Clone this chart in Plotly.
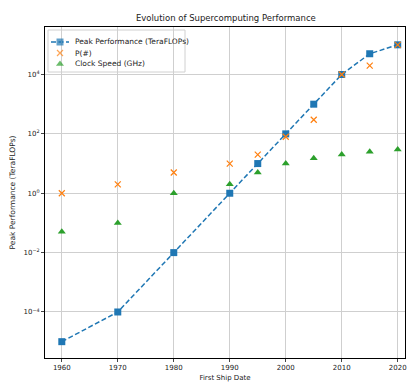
import plotly.graph_objects as go

years = [1960, 1970, 1980, 1990, 1995, 2000, 2005, 2010, 2015, 2020]
peak_tflops = [1e-5, 1e-4, 1e-2, 1, 10, 100, 1000, 1e4, 5e4, 1e5]
p_count = [1, 2, 5, 10, 20, 80, 300, 1e4, 2e4, 1e5]
clock_ghz = [0.05, 0.1, 1, 2, 5, 10, 15, 20, 25, 30]

series_names = ["Peak Performance (TeraFLOPs)", "P(#)", "Clock Speed (GHz)"]
series_colors = ["#1f77b4", "#ff7f0e", "#2ca02c"]

ytick_vals = [1e-4, 1e-2, 1, 1e2, 1e4]
ytick_text = ["10<sup>−4</sup>", "10<sup>−2</sup>", "10<sup>0</sup>", "10<sup>2</sup>", "10<sup>4</sup>"]
xtick_vals = [1960, 1970, 1980, 1990, 2000, 2010, 2020]

font = "DejaVu Sans"
W, H = 407, 383
L, R, T, B = 45, 2, 27, 25
pw, ph = W - L - R, H - T - B

def px(xp):
    return (xp - L) / pw

def py(yp):
    return (H - B - yp) / ph

fig = go.Figure()
fig.add_trace(go.Scatter(
    x=years, y=peak_tflops, mode="lines+markers", name=series_names[0],
    line=dict(color=series_colors[0], dash="5px,2.5px", width=1.5),
    marker=dict(symbol="square", size=7, color=series_colors[0]), showlegend=False))
fig.add_trace(go.Scatter(
    x=years, y=p_count, mode="markers", name=series_names[1],
    marker=dict(symbol="x-thin", size=6, line=dict(color=series_colors[1], width=1.2),
                color=series_colors[1]), showlegend=False))
fig.add_trace(go.Scatter(
    x=years, y=clock_ghz, mode="markers", name=series_names[2],
    marker=dict(symbol="triangle-up", size=7, color=series_colors[2]), showlegend=False))

# custom legend (compact, matplotlib-like)
leg_rows = [42, 53, 64]
fig.add_shape(type="rect", xref="paper", yref="paper",
              x0=px(48), x1=px(185), y0=py(72), y1=py(30),
              line=dict(color="#d0d0d0", width=1), fillcolor="rgba(255,255,255,0.85)", layer="between")
fig.add_shape(type="line", xref="paper", yref="paper",
              x0=px(51), x1=px(69), y0=py(leg_rows[0]), y1=py(leg_rows[0]),
              line=dict(color=series_colors[0], width=1.5, dash="5px,2.5px"), layer="between")
fig.add_trace(go.Scatter(
    x=[px(60), px(60), px(60)], y=[py(r) for r in leg_rows], xaxis="x2", yaxis="y2",
    mode="markers", showlegend=False, hoverinfo="skip",
    marker=dict(symbol=["square", "x-thin", "triangle-up"], size=[7, 6, 7],
                color=series_colors, line=dict(color=series_colors, width=[0, 1.2, 0]))))
for name, r in zip(series_names, leg_rows):
    fig.add_annotation(x=px(73), y=py(r), xref="paper", yref="paper", text=name,
                       showarrow=False, xanchor="left", yanchor="middle",
                       font=dict(size=7.5, color="#222"))

axis_common = dict(ticks="outside", ticklen=3, automargin=False,
                   showgrid=True, gridcolor="#cfcfcf", gridwidth=1,
                   showline=True, linecolor="black", linewidth=1, mirror=True, zeroline=False)

fig.update_layout(
    width=W, height=H,
    margin=dict(l=L, r=R, t=T, b=B),
    paper_bgcolor="white", plot_bgcolor="white",
    font=dict(family=font, size=7, color="#222"),
    title=dict(text="Evolution of Supercomputing Performance", x=0.555, xanchor="center",
               y=1 - 18 / H, yanchor="middle", font=dict(size=8.5, color="#222")),
    showlegend=False,
    xaxis=dict(range=[1957, 2021.3], tickvals=xtick_vals,
               title=dict(text="First Ship Date", font=dict(size=7), standoff=3), **axis_common),
    yaxis=dict(type="log", range=[-5.55, 5.6], tickvals=ytick_vals, ticktext=ytick_text,
               title=dict(text="Peak Performance (TeraFLOPs)", font=dict(size=7.5), standoff=6),
               **axis_common),
    xaxis2=dict(overlaying="x", range=[0, 1], visible=False, fixedrange=True),
    yaxis2=dict(overlaying="y", range=[0, 1], visible=False, fixedrange=True),
)

fig.write_html("out.html", config={"displayModeBar": False},
               post_script="document.body.style.margin='0';")
